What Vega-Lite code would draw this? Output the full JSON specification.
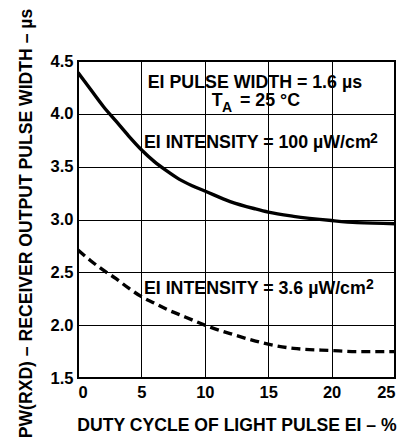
{
  "$schema": "https://vega.github.io/schema/vega-lite/v6.json",
  "width": 317,
  "height": 317,
  "autosize": "none",
  "padding": {"left": 78, "top": 61, "right": 17, "bottom": 62},
  "background": "white",
  "config": {
    "font": "Liberation Sans",
    "view": {"stroke": "#000", "strokeWidth": 2},
    "axis": {
      "grid": true,
      "gridColor": "#000",
      "gridOpacity": 1,
      "gridWidth": 1,
      "domain": false,
      "ticks": false,
      "labelFont": "Liberation Sans",
      "labelFontWeight": "bold",
      "labelFontSize": 16.5,
      "labelColor": "#000",
      "titleFont": "Liberation Sans",
      "titleFontWeight": "bold",
      "titleFontSize": 17.6,
      "titleColor": "#000"
    }
  },
  "datasets": {
    "curves": [
      {"duty": 0, "pw": 4.39, "series": "100"},
      {"duty": 1, "pw": 4.23, "series": "100"},
      {"duty": 2, "pw": 4.07, "series": "100"},
      {"duty": 3, "pw": 3.93, "series": "100"},
      {"duty": 4, "pw": 3.79, "series": "100"},
      {"duty": 5, "pw": 3.66, "series": "100"},
      {"duty": 6, "pw": 3.55, "series": "100"},
      {"duty": 7, "pw": 3.46, "series": "100"},
      {"duty": 8, "pw": 3.38, "series": "100"},
      {"duty": 9, "pw": 3.32, "series": "100"},
      {"duty": 10, "pw": 3.27, "series": "100"},
      {"duty": 12, "pw": 3.17, "series": "100"},
      {"duty": 14, "pw": 3.1, "series": "100"},
      {"duty": 15, "pw": 3.07, "series": "100"},
      {"duty": 17, "pw": 3.03, "series": "100"},
      {"duty": 20, "pw": 2.99, "series": "100"},
      {"duty": 22, "pw": 2.97, "series": "100"},
      {"duty": 25, "pw": 2.96, "series": "100"},
      {"duty": 0, "pw": 2.71, "series": "3.6"},
      {"duty": 1, "pw": 2.61, "series": "3.6"},
      {"duty": 2, "pw": 2.52, "series": "3.6"},
      {"duty": 3, "pw": 2.44, "series": "3.6"},
      {"duty": 4, "pw": 2.35, "series": "3.6"},
      {"duty": 5, "pw": 2.27, "series": "3.6"},
      {"duty": 6, "pw": 2.21, "series": "3.6"},
      {"duty": 7, "pw": 2.15, "series": "3.6"},
      {"duty": 8, "pw": 2.1, "series": "3.6"},
      {"duty": 9, "pw": 2.05, "series": "3.6"},
      {"duty": 10, "pw": 2.0, "series": "3.6"},
      {"duty": 12, "pw": 1.92, "series": "3.6"},
      {"duty": 14, "pw": 1.85, "series": "3.6"},
      {"duty": 15, "pw": 1.82, "series": "3.6"},
      {"duty": 17, "pw": 1.78, "series": "3.6"},
      {"duty": 20, "pw": 1.76, "series": "3.6"},
      {"duty": 22, "pw": 1.75, "series": "3.6"},
      {"duty": 25, "pw": 1.75, "series": "3.6"}
    ],
    "notes": [
      {"duty": 5.5, "pw": 4.24, "text": "EI PULSE WIDTH = 1.6 µs", "kind": "main"},
      {"duty": 10.54, "pw": 4.075, "text": "T", "kind": "main"},
      {"duty": 11.36, "pw": 4.018, "text": "A", "kind": "small"},
      {"duty": 12.78, "pw": 4.075, "text": "= 25 °C", "kind": "main"},
      {"duty": 5.2, "pw": 3.673, "text": "EI INTENSITY = 100 µW/cm", "kind": "main"},
      {"duty": 23.03, "pw": 3.72, "text": "2", "kind": "small"},
      {"duty": 5.2, "pw": 2.294, "text": "EI INTENSITY = 3.6 µW/cm", "kind": "main"},
      {"duty": 22.72, "pw": 2.338, "text": "2", "kind": "small"}
    ]
  },
  "layer": [
    {
      "data": {"name": "curves"},
      "transform": [{"filter": "datum.series === '100'"}],
      "mark": {"type": "line", "color": "#000", "strokeWidth": 3.4, "interpolate": "monotone", "clip": true},
      "encoding": {
        "x": {
          "field": "duty", "type": "quantitative",
          "scale": {"domain": [0, 25], "nice": false, "zero": false},
          "axis": {
            "values": [0, 5, 10, 15, 20, 25],
            "labelPadding": 6,
            "title": "DUTY CYCLE OF LIGHT PULSE EI – %",
            "titleX": 158.5, "titleY": 52, "titleAlign": "center", "titleBaseline": "alphabetic"
          }
        },
        "y": {
          "field": "pw", "type": "quantitative",
          "scale": {"domain": [1.5, 4.5], "nice": false, "zero": false},
          "axis": {
            "values": [1.5, 2.0, 2.5, 3.0, 3.5, 4.0, 4.5],
            "format": ".1f",
            "labelPadding": 5,
            "title": "PW(RXD) – RECEIVER OUTPUT PULSE WIDTH – µs",
            "titleAngle": -90,
            "titleX": -47, "titleY": 162, "titleAlign": "center", "titleBaseline": "alphabetic"
          }
        }
      }
    },
    {
      "data": {"name": "curves"},
      "transform": [{"filter": "datum.series === '3.6'"}],
      "mark": {"type": "line", "color": "#000", "strokeWidth": 3.4, "strokeDash": [9, 5], "interpolate": "monotone", "clip": true},
      "encoding": {
        "x": {"field": "duty", "type": "quantitative"},
        "y": {"field": "pw", "type": "quantitative"}
      }
    },
    {
      "data": {"name": "notes"},
      "transform": [{"filter": "datum.kind === 'main'"}],
      "mark": {"type": "text", "align": "left", "baseline": "alphabetic", "font": "Liberation Sans", "fontWeight": "bold", "fontSize": 17.8, "color": "#000"},
      "encoding": {
        "x": {"field": "duty", "type": "quantitative"},
        "y": {"field": "pw", "type": "quantitative"},
        "text": {"field": "text"}
      }
    },
    {
      "data": {"name": "notes"},
      "transform": [{"filter": "datum.kind === 'small'"}],
      "mark": {"type": "text", "align": "left", "baseline": "alphabetic", "font": "Liberation Sans", "fontWeight": "bold", "fontSize": 14, "color": "#000"},
      "encoding": {
        "x": {"field": "duty", "type": "quantitative"},
        "y": {"field": "pw", "type": "quantitative"},
        "text": {"field": "text"}
      }
    }
  ]
}
